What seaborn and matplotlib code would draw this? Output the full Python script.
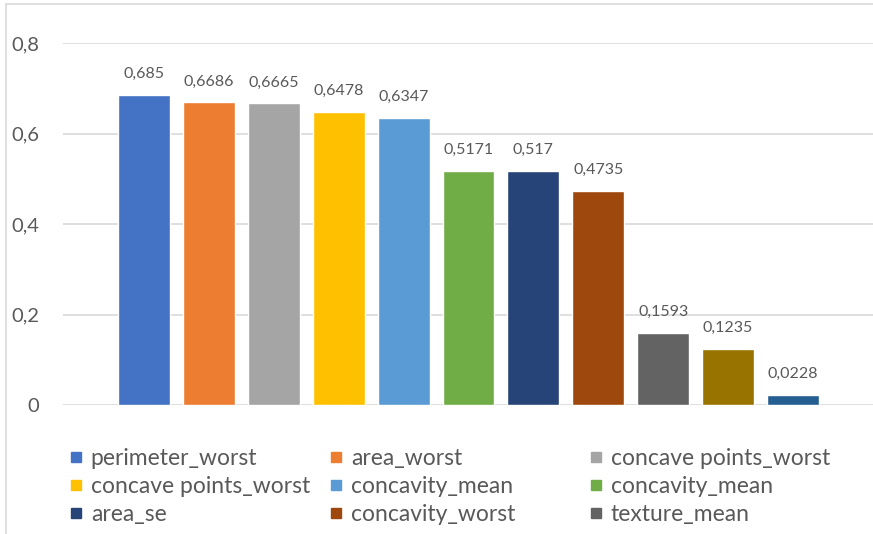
import pandas as pd
import matplotlib.pyplot as plt
import seaborn as sns
from matplotlib.lines import Line2D
from matplotlib.patches import Rectangle

features = ['perimeter_worst', 'area_worst', 'concave points_worst', 'concave points_worst',
            'concavity_mean', 'concavity_mean', 'area_se', 'concavity_worst', 'texture_mean',
            '', '']
values = [0.685, 0.6686, 0.6665, 0.6478, 0.6347, 0.5171, 0.517, 0.4735, 0.1593, 0.1235, 0.0228]
colors = ['#4472C4', '#ED7D31', '#A5A5A5', '#FFC000', '#5B9BD5', '#70AD47',
          '#264478', '#9E480E', '#636363', '#997300', '#255E91']
y_ticks = [0, 0.2, 0.4, 0.6, 0.8]
n_legend = 9

df = pd.DataFrame({'bar': [str(i) for i in range(len(values))], 'value': values})

sns.set_theme(style="white")
plt.rcParams['font.family'] = ['Lato', 'DejaVu Sans']
text_col = '#595959'

W, H = 873, 534
fig = plt.figure(figsize=(W / 100, H / 100), dpi=100)
ax = fig.add_axes([63 / W, (H - 405) / H, 1 - 63 / W, (405 - 43) / H])

sns.barplot(data=df, x='bar', y='value', hue='bar', palette=colors, legend=False,
            width=0.8, saturation=1, ax=ax)

ax.set_xlim(-1.248, 11.233)
ax.set_ylim(0, 0.8)
ax.set_yticks(y_ticks)
ax.set_yticklabels([('%g' % t).replace('.', ',') for t in y_ticks], fontsize=14.5, color=text_col)
ax.set_xticks([])
ax.set_xlabel('')
ax.set_ylabel('')
ax.tick_params(axis='y', length=0, pad=17)
ax.grid(axis='y', color='#D9D9D9', linewidth=1.2)
ax.set_axisbelow(True)
for s in ax.spines.values():
    s.set_visible(False)

for cont in ax.containers:
    ax.bar_label(cont, labels=[str(v).replace('.', ',') for v in cont.datavalues],
                 padding=10, fontsize=11.5, color=text_col)

# chart border like the Excel frame
fig.patches.append(Rectangle((6 / W, -0.1), 2, 1.1 - 4 / H, transform=fig.transFigure,
                             fill=False, edgecolor='#D9D9D9', linewidth=1.2))

# legend in three columns, row-major order like Excel
handles = [Line2D([], [], marker='s', linestyle='', markersize=7.5, color=c) for c in colors[:n_legend]]
col_x = [69, 329, 589]
for j in range(3):
    idx = [j, j + 3, j + 6]
    fig.legend([handles[i] for i in idx], [features[i] for i in idx],
               loc='upper left', bbox_to_anchor=(col_x[j] / W, 1 - 448 / H),
               frameon=False, fontsize=16.5, handlelength=0.6, handletextpad=0.35,
               labelspacing=0.31, borderpad=0, borderaxespad=0, labelcolor=text_col)

plt.savefig('out.png', dpi=100)
